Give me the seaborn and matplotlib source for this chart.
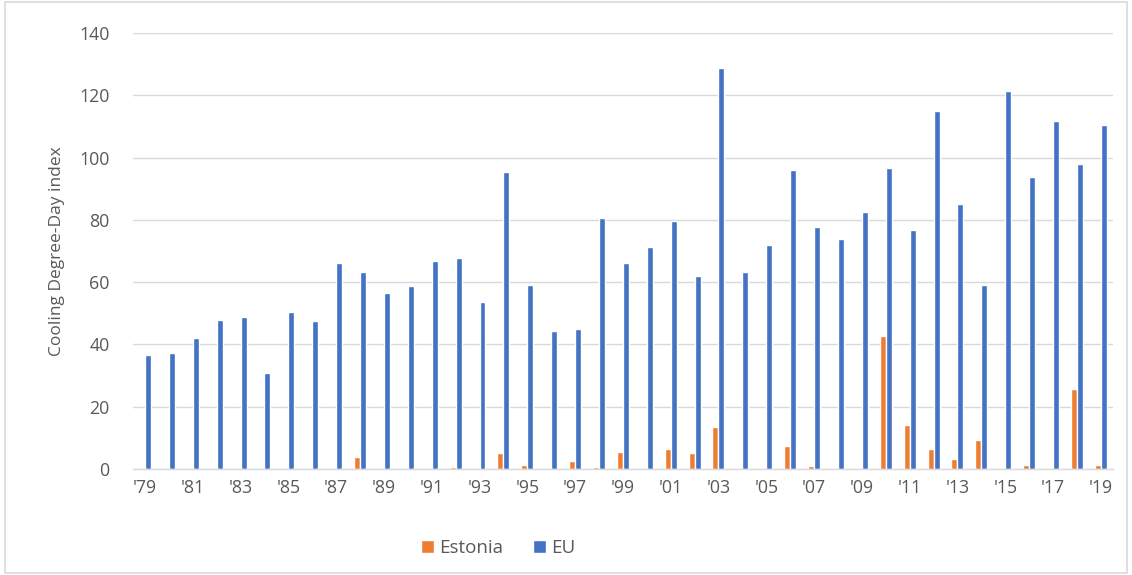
import matplotlib
matplotlib.use("Agg")
import matplotlib.pyplot as plt
from matplotlib.patches import Rectangle
import seaborn as sns
import pandas as pd

years = [1979, 1980, 1981, 1982, 1983, 1984, 1985, 1986, 1987, 1988,
         1989, 1990, 1991, 1992, 1993, 1994, 1995, 1996, 1997, 1998,
         1999, 2000, 2001, 2002, 2003, 2004, 2005, 2006, 2007, 2008,
         2009, 2010, 2011, 2012, 2013, 2014, 2015, 2016, 2017, 2018, 2019]

eu = [36.6, 37.2, 42.0, 48.0, 48.8, 30.8, 50.4, 47.5, 66.2, 63.3,
      56.5, 58.8, 66.8, 67.8, 53.6, 95.4, 59.0, 44.3, 45.0, 80.6,
      66.2, 71.3, 79.6, 62.0, 128.8, 63.3, 72.0, 96.0, 77.7, 73.9,
      82.5, 96.7, 76.7, 114.8, 85.1, 59.0, 121.4, 93.8, 111.8, 97.9, 110.5]

estonia = [0, 0, 0, 0, 0, 0, 0, 0, 0, 3.8,
           0, 0, 0, 0.8, 0, 5.1, 1.3, 0, 2.6, 0.8,
           5.6, 0, 6.3, 5.1, 13.5, 0, 0, 7.5, 0.85, 0,
           0, 42.6, 14.1, 6.3, 3.2, 9.3, 0, 1.4, 0, 25.7, 1.4]

series_names = ["Estonia", "EU"]
colors = {"Estonia": "#ED7D31", "EU": "#4472C4"}
y_label = "Cooling Degree-Day index"
y_ticks = [0, 20, 40, 60, 80, 100, 120, 140]

year_labels = ["'" + str(y)[2:] for y in years]

df = pd.DataFrame({
    "year": year_labels * 2,
    "series": ["Estonia"] * len(years) + ["EU"] * len(years),
    "value": estonia + eu,
})

sns.set_theme(style="white")
plt.rcParams["font.family"] = ["Open Sans", "DejaVu Sans"]

fig = plt.figure(figsize=(11.32, 5.75), dpi=100)
ax = fig.add_axes([0.1175, 0.1843, 0.8655, 0.7583])

sns.barplot(data=df, x="year", y="value", hue="series", order=year_labels,
            hue_order=series_names, palette=colors, width=0.5, gap=0,
            saturation=1, ax=ax, legend=True)

ax.set_ylim(0, 140)
ax.set_xlim(-0.5, len(years) - 0.5)
ax.set_yticks(y_ticks)
ax.set_yticklabels([str(t) for t in y_ticks])
ax.yaxis.grid(True, color="#D9D9D9", linewidth=1)
ax.set_axisbelow(True)
for s in ["top", "right", "left"]:
    ax.spines[s].set_visible(False)
ax.spines["bottom"].set_color("#D9D9D9")
ax.spines["bottom"].set_linewidth(1)

ax.set_xticks(range(0, len(years), 2))
ax.set_xticklabels(year_labels[::2])
ax.tick_params(axis="both", length=0, colors="#595959", labelsize=12.8)
ax.tick_params(axis="y", pad=17)
ax.tick_params(axis="x", pad=7)
ax.set_xlabel("")
ax.set_ylabel(y_label, color="#595959", fontsize=12.5, labelpad=10)

handles, labels = ax.get_legend_handles_labels()
ax.legend(handles, labels, loc="center", bbox_to_anchor=(0.44, 0.047),
          bbox_transform=fig.transFigure, ncol=2, frameon=False,
          fontsize=13.5, handlelength=0.7, handleheight=0.7, handletextpad=0.25,
          columnspacing=1.6, labelcolor="#595959")

fig.patches.append(Rectangle((0.004, 0.004), 0.992, 0.992, transform=fig.transFigure,
                             fill=False, edgecolor="#D9D9D9", linewidth=1.2))

fig.savefig("out.png", dpi=100, facecolor="white")
